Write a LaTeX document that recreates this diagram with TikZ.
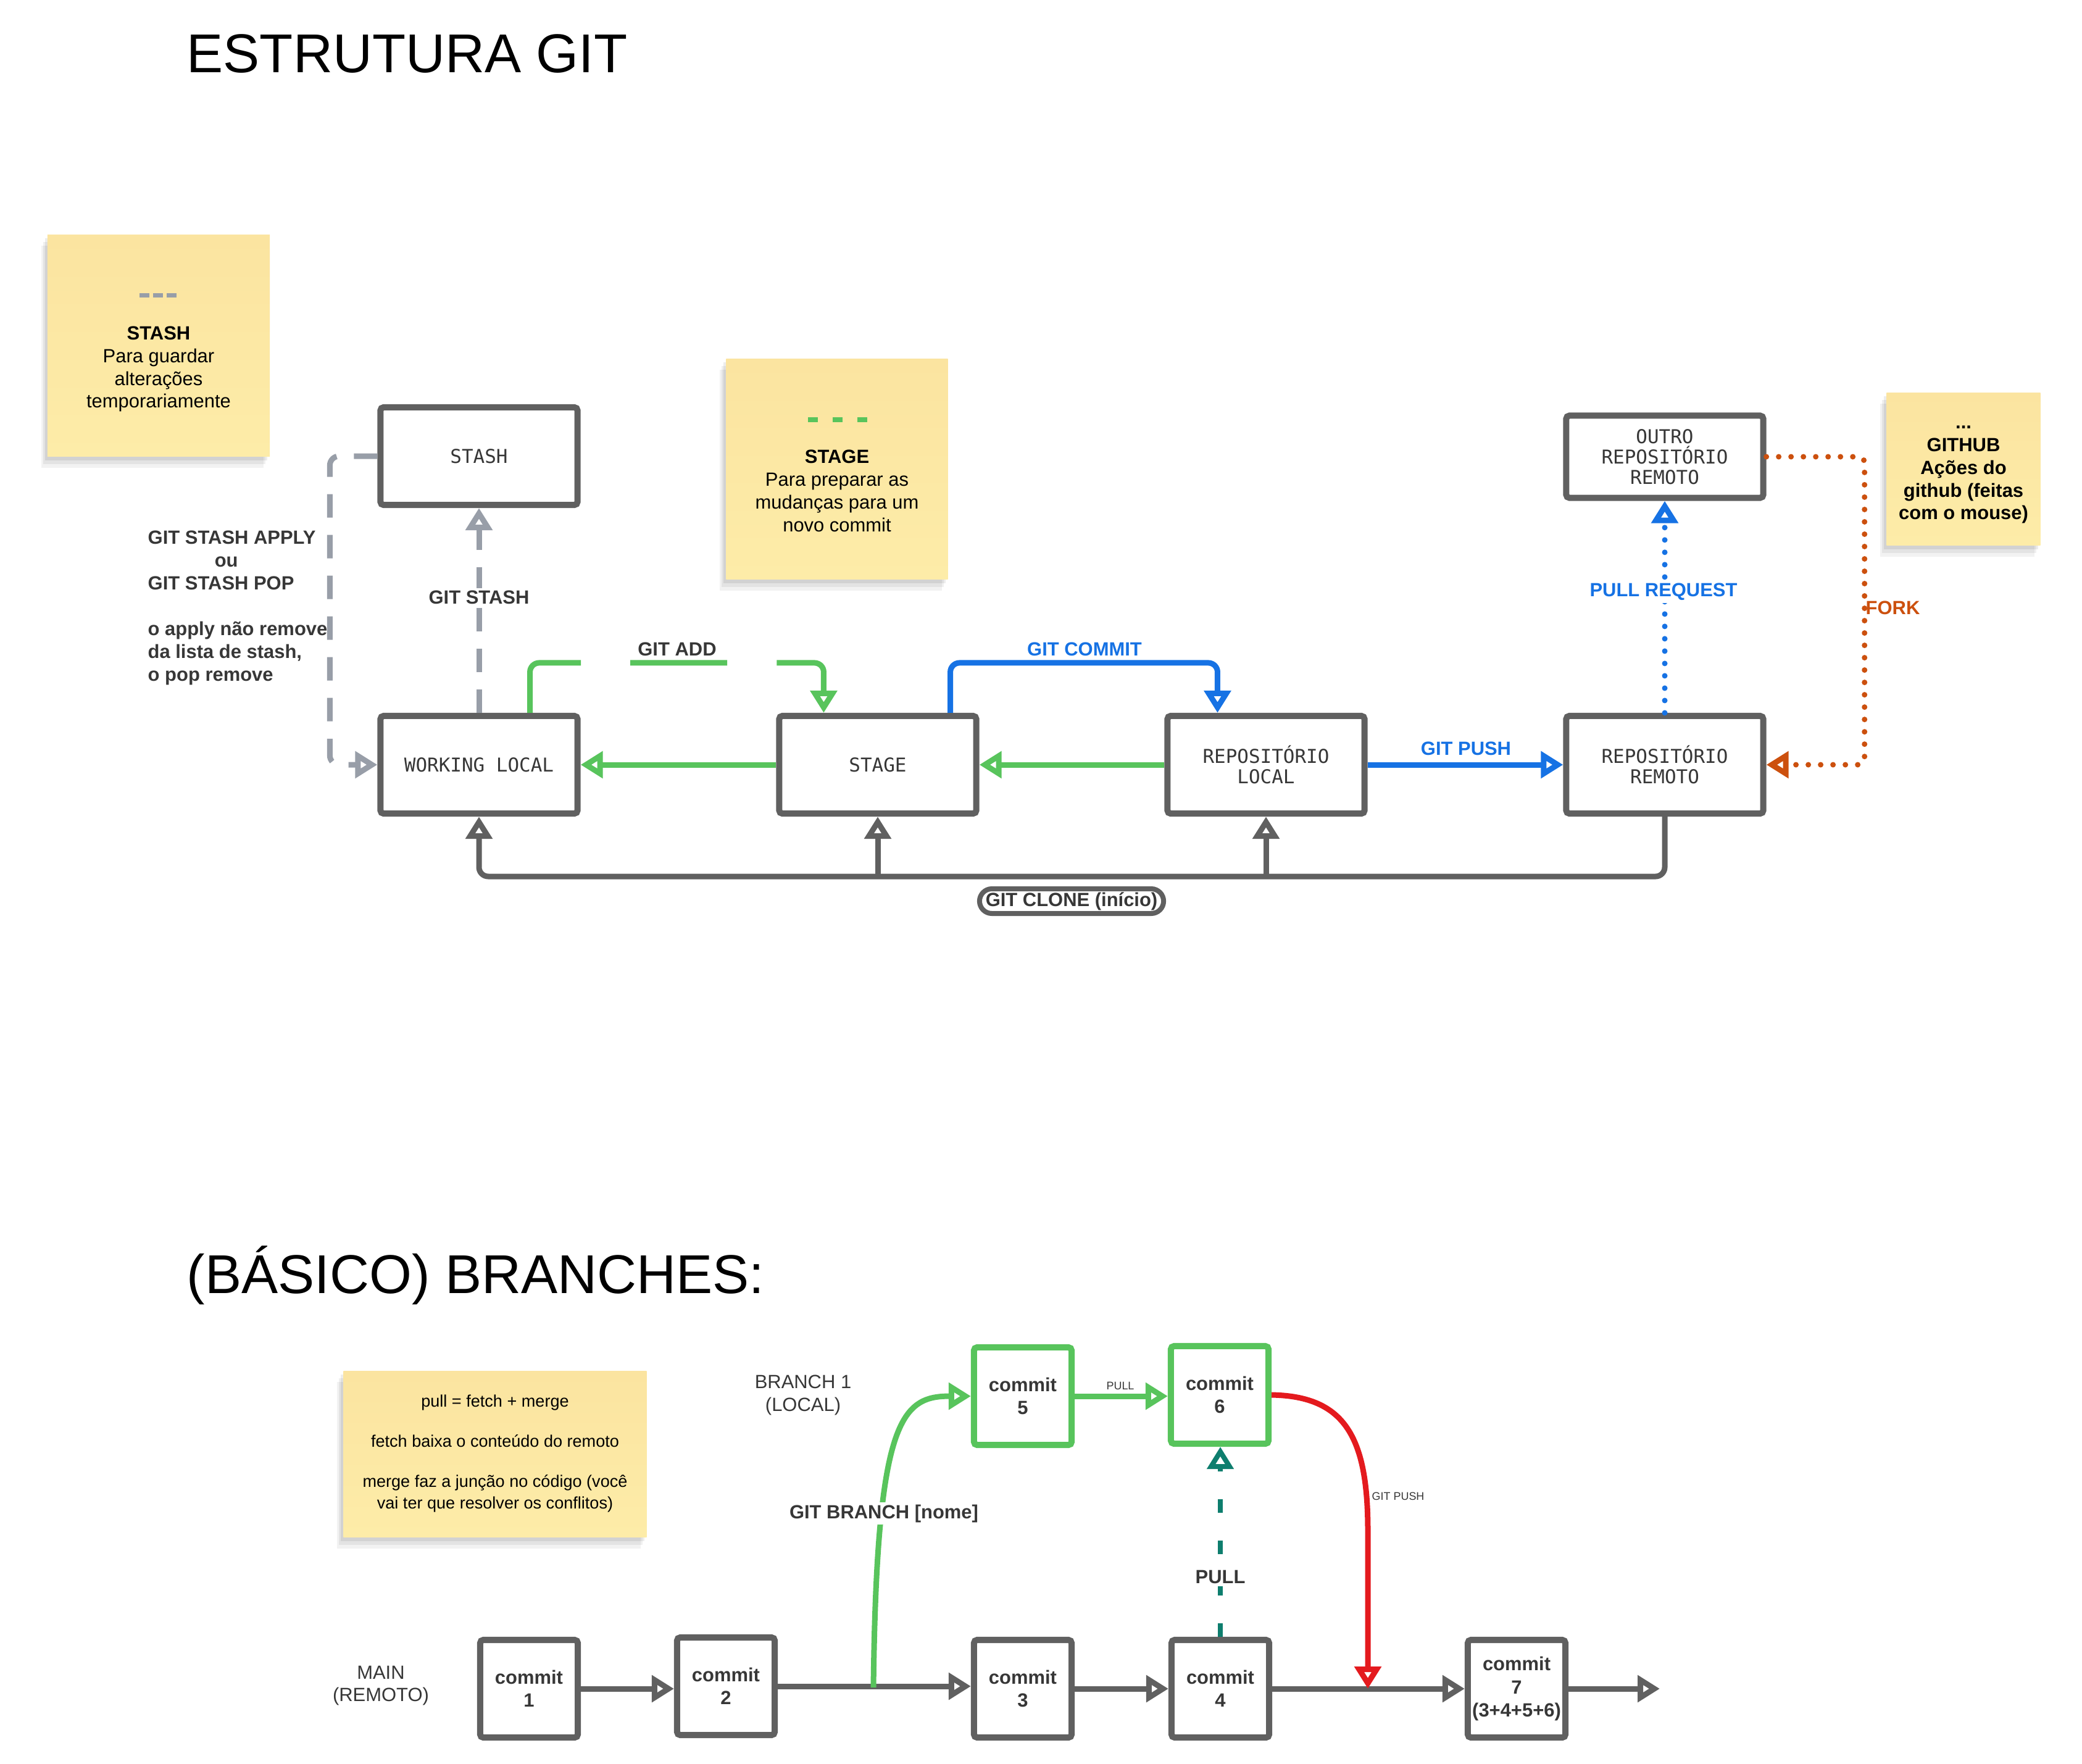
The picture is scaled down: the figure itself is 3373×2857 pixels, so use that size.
\documentclass[tikz,border=0pt]{standalone}
\usepackage{fontspec}
\setmainfont{Liberation Sans}
\setmonofont{DejaVu Sans Mono}
\usetikzlibrary{arrows.meta,shadows}

\definecolor{borda}{RGB}{96,96,96}
\definecolor{texto}{RGB}{55,55,55}
\definecolor{notacima}{RGB}{251,228,160}
\definecolor{notabaixo}{RGB}{253,236,168}
\definecolor{verde}{RGB}{88,196,92}
\definecolor{azul}{RGB}{22,114,228}
\definecolor{laranja}{RGB}{204,80,14}
\definecolor{verdeescuro}{RGB}{14,126,110}
\definecolor{vermelho}{RGB}{228,26,30}
\definecolor{cinza}{RGB}{152,158,168}

\tikzset{
  caja/.style={draw=borda, line width=0.1cm, fill=white, rounded corners=0.05cm,
    minimum width=3.19cm, minimum height=1.58cm, align=center, text=texto,
    font=\ttfamily\fontsize{8.8}{9.4}\selectfont},
  commit/.style={caja, minimum width=1.58cm, minimum height=1.58cm, inner sep=0.02cm,
    font=\bfseries\fontsize{8.8}{10.6}\selectfont},
  nota/.style={top color=notacima, bottom color=notabaixo, inner sep=0,
    drop shadow={shadow xshift=-0.1cm, shadow yshift=-0.18cm, opacity=0.05, fill=black},
    drop shadow={shadow xshift=-0.07cm, shadow yshift=-0.12cm, opacity=0.06, fill=black},
    drop shadow={shadow xshift=-0.04cm, shadow yshift=-0.06cm, opacity=0.07, fill=black}},
  notatexto/.style={align=center, text=black, font=\fontsize{8.8}{10.5}\selectfont},
  rotulo/.style={font=\bfseries\fontsize{8.8}{10.5}\selectfont, text=texto, inner sep=0.04cm},
  seta/.style={line width=0.09cm, -{Triangle[open, length=0.36cm, width=0.42cm]}},
  titulo/.style={font=\fontsize{25.2}{30}\selectfont, anchor=base west, inner sep=0},
}

\begin{document}
\begin{tikzpicture}[x=0.01cm, y=-0.01cm]
    \fill[white] (0,0) rectangle (3373,2857);
    \useasboundingbox (0,0) rectangle (3373,2857);

    % Titulos
    \node[titulo] (tit1) at (302,117) {ESTRUTURA GIT};
    \node[titulo] (tit2) at (302,2095) {(BÁSICO) BRANCHES:};

    % Notas amarillas
    \node[nota, minimum width=3.6cm, minimum height=3.59cm] (nstash) at (257,560) {};
    \draw[cinza, line width=0.07cm, dash pattern=on 0.16cm off 0.06cm] (226,478) -- (288,478);
    \node[notatexto] (tstash) at (257,598) {\textbf{STASH}\\Para guardar\\alterações\\temporariamente};

    \node[nota, minimum width=3.59cm, minimum height=3.57cm] (nstage) at (1356,760) {};
    \draw[verde, line width=0.08cm, dash pattern=on 0.16cm off 0.24cm] (1309,680) -- (1407,680);
    \node[notatexto] (tstage) at (1356,795) {\textbf{STAGE}\\Para preparar as\\mudanças para um\\novo commit};

    \node[nota, minimum width=2.49cm, minimum height=2.47cm] (ngithub) at (3181,760) {};
    \node[notatexto, font=\bfseries\fontsize{8.8}{10.5}\selectfont] (tgithub) at (3181,769) {...\\GITHUB\\Ações do\\github (feitas\\com o mouse)};

    \node[nota, minimum width=4.91cm, minimum height=2.69cm] (npull) at (802,2356) {};
    \node[notatexto, font=\fontsize{7.7}{10}\selectfont] (tpull) at (802,2355) {pull = fetch + merge\\[0.3cm]fetch baixa o conteúdo do remoto\\[0.3cm]merge faz a junção no código (você\\vai ter que resolver os conflitos)};

    % Cajas de la estructura
    \node[caja] (stash) at (776,739) {STASH};
    \node[caja] (wl) at (776,1239) {WORKING LOCAL};
    \node[caja] (stage) at (1422,1239) {STAGE};
    \node[caja] (rl) at (2051,1239) {REPOSITÓRIO\\LOCAL};
    \node[caja] (rr) at (2697,1239) {REPOSITÓRIO\\REMOTO};
    \node[caja, minimum height=1.33cm] (outro) at (2697,740) {OUTRO\\REPOSITÓRIO\\REMOTO};

    % Flechas de stash
    \draw[seta, cinza, dash pattern=on 0.38cm off 0.28cm] (wl.north) -- (stash.south);
    \draw[seta, cinza, dash pattern=on 0.38cm off 0.28cm, rounded corners=0.15cm] (stash.west) -- ++(-0.77cm,0) |- (wl.west);

    % Add, commit y push
    \draw[seta, verde, dash pattern=on 1.57cm off 0.8cm, rounded corners=0.15cm] ([xshift=-0.82cm]wl.north east) -- ++(0,0.81cm) -| ([xshift=0.77cm]stage.north west);
    \draw[seta, verde] (stage.west) -- (wl.east);
    \draw[seta, verde] (rl.west) -- (stage.east);
    \draw[seta, azul, rounded corners=0.15cm] ([xshift=-0.47cm]stage.north east) -- ++(0,0.81cm) -| ([xshift=0.86cm]rl.north west);
    \draw[seta, azul] (rl.east) -- (rr.west);

    % Pull request y fork
    \draw[seta, azul, line cap=round, dash pattern=on 0cm off 0.2cm] (rr.north) -- (outro.south);
    \draw[seta, laranja, line cap=round, dash pattern=on 0cm off 0.2cm, rounded corners=0.1cm] (outro.east) -- ++(1.59cm,0) |- (rr.east);

    % Clone
    \coordinate (baseclone) at (2000,1420);
    \draw[seta, borda, rounded corners=0.15cm] (rr.south) -- (rr.south |- baseclone) -| (wl.south);
    \draw[seta, borda] (stage.south |- baseclone) -- (stage.south);
    \draw[seta, borda] (rl.south |- baseclone) -- (rl.south);

    % Etiquetas
    \node[rotulo, fill=white] (lstash) at (776,968) {GIT STASH};
    \node[rotulo, anchor=west, align=left, inner sep=0] (lpop) at (239,985) {GIT STASH APPLY\\\hspace*{1.08cm}ou\\GIT STASH POP\\[0.37cm]o apply não remove\\da lista de stash,\\o pop remove};
    \node[rotulo] (ladd) at (1097,1052) {GIT ADD};
    \node[rotulo, text=azul] (lcommit) at (1757,1052) {GIT COMMIT};
    \node[rotulo, text=azul] (lpush) at (2375,1213) {GIT PUSH};
    \node[rotulo, text=azul, fill=white] (lpr) at (2695,959) {PULL REQUEST};
    \node[rotulo, text=laranja, anchor=west, inner sep=0] (lfork) at (3022,985) {FORK};
    \node[rotulo, draw=borda, line width=0.08cm, fill=white, rounded corners=0.2cm, minimum width=2.98cm, minimum height=0.4cm, inner sep=0] (lclone) at (1736,1460) {GIT CLONE (início)};

    % Commits
    \node[commit] (c1) at (857,2736) {commit\\1};
    \node[commit] (c2) at (1176,2732) {commit\\2};
    \node[commit] (c3) at (1657,2736) {commit\\3};
    \node[commit] (c4) at (1977,2736) {commit\\4};
    \node[commit] (c7) at (2457,2736) {commit\\7\\(3+4+5+6)};
    \node[commit, draw=verde] (c5) at (1657,2262) {commit\\5};
    \node[commit, draw=verde] (c6) at (1976,2260) {commit\\6};

    \node[align=center, text=texto, font=\fontsize{8.8}{10.5}\selectfont] (lmain) at (617,2731) {MAIN\\(REMOTO)};
    \node[align=center, text=texto, font=\fontsize{8.8}{10.5}\selectfont] (lbranch1) at (1301,2260) {BRANCH 1\\(LOCAL)};

    % Lineas de los branches
    \coordinate (rama) at (1415,2734);
    \coordinate (fusao) at (2216,2736);
    \coordinate (fim) at (2689,2736);
    \draw[seta, borda] (c1.east) -- (c1.east -| c2.west);
    \draw[seta, borda] (c2.east) -- (c2.east -| c3.west);
    \draw[seta, borda] (c3.east) -- (c4.west);
    \draw[seta, borda] (c4.east) -- (c7.west);
    \draw[seta, borda] (c7.east) -- (fim);
    \draw[seta, verde] (rama) .. controls (1420,2300) and (1460,2262) .. (c5.west);
    \draw[seta, verde] (c5.east) -- (c5.east -| c6.west);
    \draw[seta, verdeescuro, line width=0.08cm, dash pattern=on 0.22cm off 0.45cm] (c4.north) -- (c4.north |- c6.south);
    \draw[seta, vermelho] (c6.east) .. controls (2180,2262) and (2216,2330) .. (2216,2480) -- (fusao);

    \node[rotulo, fill=white] (lbranch) at (1432,2452) {GIT BRANCH [nome]};
    \node[rotulo, fill=white] (lpull) at (1977,2555) {PULL};
    \node[text=texto, font=\fontsize{5.1}{6}\selectfont] (lpullp) at (1815,2245) {PULL};
    \node[text=texto, font=\fontsize{5.1}{6}\selectfont, anchor=west, inner sep=0] (lgpush) at (2222,2424) {GIT PUSH};
\end{tikzpicture}
\end{document}
